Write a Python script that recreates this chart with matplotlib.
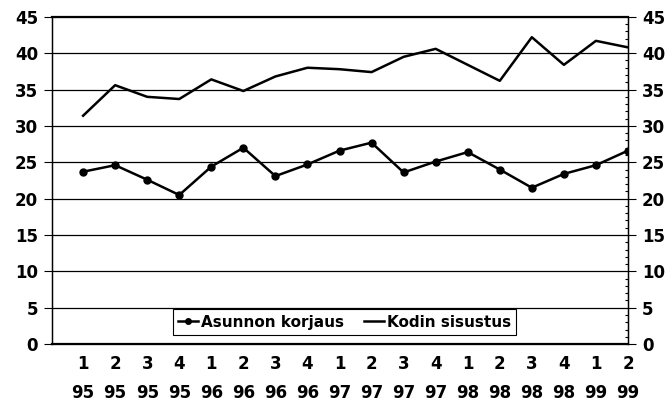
import numpy as np
import matplotlib
matplotlib.use("Agg")
import matplotlib.pyplot as plt
from matplotlib.ticker import MultipleLocator

plt.rcParams['font.family'] = ['Liberation Sans Narrow', 'DejaVu Sans']
plt.rcParams['font.weight'] = 'bold'

# quarter / year labels
quarters = ["1", "2", "3", "4", "1", "2", "3", "4", "1", "2", "3", "4", "1", "2", "3", "4", "1", "2"]
years = ["95", "95", "95", "95", "96", "96", "96", "96", "97", "97", "97", "97",
         "98", "98", "98", "98", "99", "99"]

asunnon_korjaus = [23.7, 24.6, 22.6, 20.5, 24.4, 27.0, 23.1, 24.7, 26.6, 27.7,
                   23.6, 25.1, 26.4, 24.0, 21.5, 23.4, 24.6, 26.6]
kodin_sisustus = [31.4, 35.6, 34.0, 33.7, 36.4, 34.8, 36.8, 38.0, 37.8, 37.4,
                  39.5, 40.6, 38.4, 36.2, 42.2, 38.4, 41.7, 40.8]

x = np.arange(len(quarters))
tick_labels = [q + "\n" + y for q, y in zip(quarters, years)]

fig = plt.figure(figsize=(6.70, 4.01), dpi=100)
ax = fig.add_axes([0.0776, 0.142, 0.8597, 0.816])

for v in range(5, 45, 5):
    ax.axhline(v, color='black', lw=0.9, zorder=1)

ax.plot(x, asunnon_korjaus, '-o', color='black', lw=1.8, ms=5,
        label='Asunnon korjaus', zorder=3)
ax.plot(x, kodin_sisustus, '-', color='black', lw=1.8,
        label='Kodin sisustus', zorder=3)

ax.set_xlim(-0.97, 17)
ax.set_ylim(0, 45)
ax.yaxis.set_major_locator(MultipleLocator(5))
ax.set_xticks(x)
ax.set_xticklabels(tick_labels, fontsize=12, linespacing=1.75)
ax.tick_params(axis='x', length=0, pad=8)
ax.tick_params(axis='y', direction='out', length=6, width=0.8, labelsize=12, pad=4)

for side in ['left', 'right']:
    ax.spines[side].set_linewidth(1.0)
ax.spines['top'].set_linewidth(1.6)
ax.spines['bottom'].set_linewidth(1.6)

ax2 = ax.twinx()
ax2.set_ylim(0, 45)
ax2.yaxis.set_major_locator(MultipleLocator(5))
ax2.yaxis.set_minor_locator(MultipleLocator(1))
ax2.tick_params(axis='y', which='major', direction='out', length=6, width=0.8,
                labelsize=12, pad=4)
ax2.tick_params(axis='y', which='minor', direction='in', length=2, width=0.8)
for t in ax.get_yticklabels() + ax2.get_yticklabels():
    t.set_fontweight('bold')

leg = ax.legend(loc='lower left', bbox_to_anchor=(0.21, 0.028), ncol=2,
                fontsize=11, frameon=True, fancybox=False, handlelength=1.3,
                handletextpad=0.2, columnspacing=1.3, borderpad=0.35,
                borderaxespad=0)
leg.get_frame().set_edgecolor('black')
leg.get_frame().set_linewidth(0.8)
leg.get_frame().set_alpha(1)
leg.set_zorder(5)
for line in leg.get_lines():
    line.set_markersize(4)

fig.savefig("out.png", dpi=100)
